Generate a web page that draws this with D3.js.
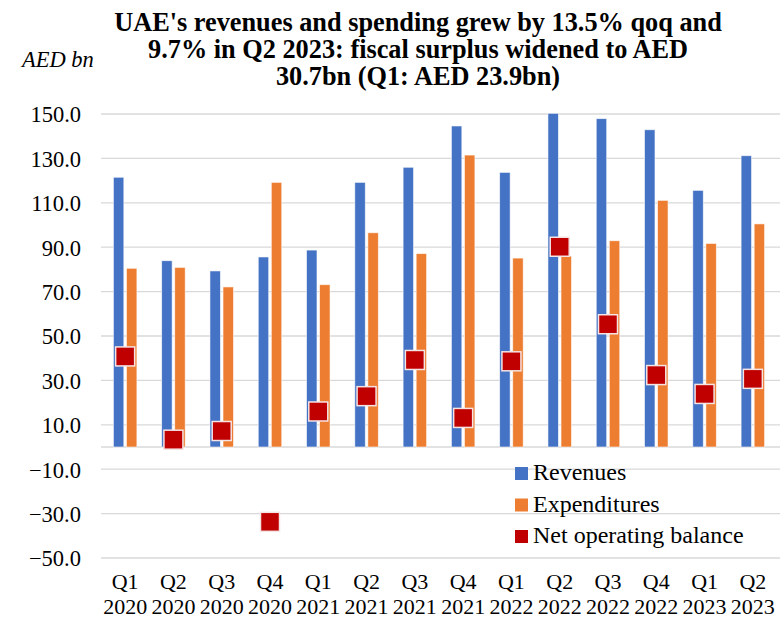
<!DOCTYPE html>
<html>
<head>
<meta charset="utf-8">
<script src="https://cdn.jsdelivr.net/npm/d3@7"></script>
<style>
  body { margin: 0; background: #fff; }
  svg { display: block; font-family: "Liberation Serif", "Times New Roman", serif; }
</style>
</head>
<body>
<svg id="chart" width="784" height="619"></svg>
<script>
const quarters = ['Q1', 'Q2', 'Q3', 'Q4', 'Q1', 'Q2', 'Q3', 'Q4', 'Q1', 'Q2', 'Q3', 'Q4', 'Q1', 'Q2'];
const years = ['2020', '2020', '2020', '2020', '2021', '2021', '2021', '2021', '2022', '2022', '2022', '2022', '2023', '2023'];
const revenues = [121.5, 83.9, 79.3, 85.6, 88.7, 119.2, 126.0, 144.6, 123.7, 150.3, 147.9, 142.9, 115.6, 131.2];
const expenditures = [80.5, 80.9, 72.1, 119.2, 73.1, 96.5, 87.1, 131.5, 85.1, 86.0, 92.9, 111.1, 91.7, 100.5];
const netBalance = [40.8, 3.3, 7.2, -33.7, 16.0, 22.9, 39.2, 13.1, 38.6, 90.2, 55.3, 32.4, 23.9, 30.7];
const yTicks = [-50, -30, -10, 10, 30, 50, 70, 90, 110, 130, 150];
const titleLines = [
    "UAE's revenues and spending grew by 13.5% qoq and",
    '9.7% in Q2 2023: fiscal surplus widened to AED',
    '30.7bn (Q1: AED 23.9bn)'
];

const colors = { rev: '#4472C4', exp: '#ED7D31', net: '#C00000' };
const keys = quarters.map((q, i) => q + ' ' + years[i]);

const svg = d3.select('#chart');
const plotL = 101, plotR = 777, plotT = 114, plotB = 558;

const x = d3.scaleBand().domain(keys).range([plotL, plotR]);
const y = d3.scaleLinear().domain([-50, 150]).range([plotB, plotT]);
const xs = d3.scaleBand().domain(['rev', 'exp']).range([-11.75, 11.75]).paddingInner(0.2);

// gridlines
svg.append('g')
    .selectAll('line')
    .data(yTicks.concat([0]))
    .enter().append('line')
    .attr('x1', plotL).attr('x2', plotR + 3)
    .attr('y1', d => y(d)).attr('y2', d => y(d))
    .attr('stroke', '#d9d9d9')
    .attr('stroke-width', 1.3);

// y axis labels
const yAxis = d3.axisLeft(y).tickValues(yTicks).tickFormat(d3.format('.1f')).tickSize(0).tickPadding(0);
svg.append('g')
    .attr('transform', 'translate(81,0)')
    .call(yAxis)
    .call(g => g.select('.domain').remove())
    .selectAll('text')
    .attr('font-family', '"Liberation Serif", serif')
    .attr('font-size', 22.5)
    .attr('fill', '#000')
    .attr('dy', '0.35em');

// bars
const rows = keys.map((k, i) => ({ key: k, rev: revenues[i], exp: expenditures[i], net: netBalance[i] }));
const group = svg.append('g').selectAll('g')
    .data(rows)
    .enter().append('g')
    .attr('transform', d => `translate(${x(d.key) + x.bandwidth() / 2},0)`);

group.selectAll('rect')
    .data(d => ['rev', 'exp'].map(s => ({ s, v: d[s] })))
    .enter().append('rect')
    .attr('x', d => xs(d.s))
    .attr('width', xs.bandwidth())
    .attr('y', d => y(Math.max(0, d.v)))
    .attr('height', d => Math.abs(y(d.v) - y(0)))
    .attr('fill', d => colors[d.s])
    .attr('stroke', 'rgba(255,255,255,0.7)')
    .attr('stroke-width', 0.8);

// net operating balance markers
const m = 19;
group.append('rect')
    .attr('x', -m / 2)
    .attr('y', d => y(d.net) - m / 2)
    .attr('width', m)
    .attr('height', m)
    .attr('fill', colors.net)
    .attr('stroke', '#f4e4e4')
    .attr('stroke-width', 1.5);

// x labels
const xl = svg.append('g').selectAll('text')
    .data(keys)
    .enter().append('text')
    .attr('x', d => x(d) + x.bandwidth() / 2)
    .attr('text-anchor', 'middle')
    .attr('font-size', 22)
    .attr('fill', '#000');
xl.append('tspan').attr('x', d => x(d) + x.bandwidth() / 2).attr('y', 589).text((d, i) => quarters[i]);
xl.append('tspan').attr('x', d => x(d) + x.bandwidth() / 2).attr('y', 614).text((d, i) => years[i]);

// title
svg.append('g').selectAll('text')
    .data(titleLines)
    .enter().append('text')
    .attr('x', 418)
    .attr('y', (d, i) => 31 + i * 27)
    .attr('text-anchor', 'middle')
    .attr('font-size', 26.3)
    .attr('font-weight', 'bold')
    .attr('fill', '#000')
    .text(d => d);

svg.append('text')
    .attr('x', 22).attr('y', 67)
    .attr('font-size', 22.5)
    .attr('font-style', 'italic')
    .attr('fill', '#000')
    .text('AED bn');

// legend
const legendItems = [
    { name: 'Revenues', c: colors.rev },
    { name: 'Expenditures', c: colors.exp },
    { name: 'Net operating balance', c: colors.net }
];
const lg = svg.append('g').selectAll('g')
    .data(legendItems)
    .enter().append('g')
    .attr('transform', (d, i) => `translate(515,${480 + i * 31.5})`);
lg.append('rect')
    .attr('x', 0).attr('y', -13)
    .attr('width', 13).attr('height', 13)
    .attr('fill', d => d.c);
lg.append('text')
    .attr('x', 18)
    .attr('font-size', 24)
    .attr('fill', '#000')
    .text(d => d.name);
</script>
</body>
</html>
